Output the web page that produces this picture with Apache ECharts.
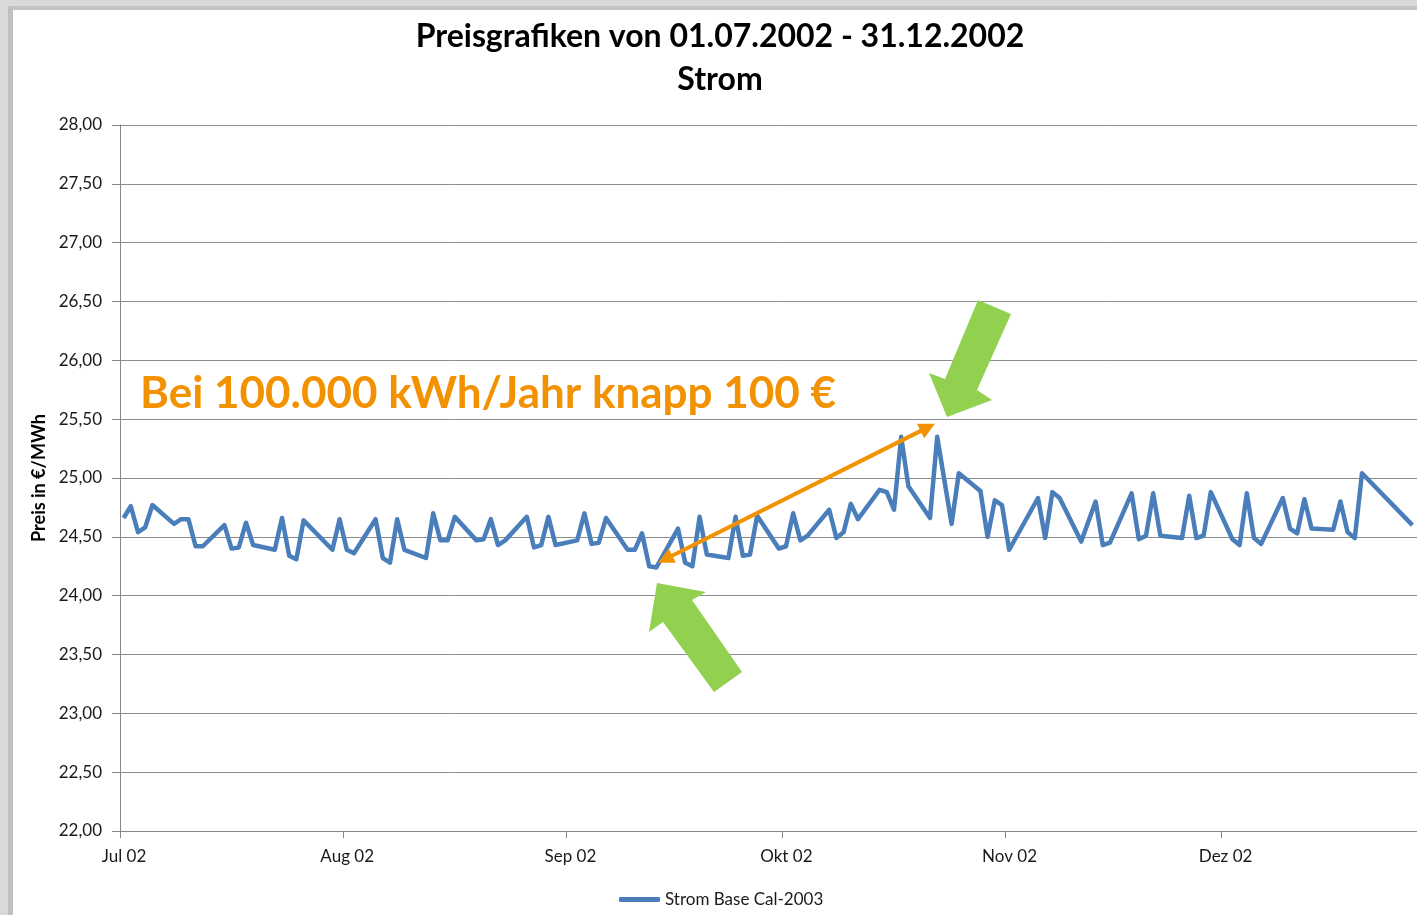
<!DOCTYPE html>
<html><head><meta charset="utf-8">
<script src="https://cdn.jsdelivr.net/npm/echarts@6/dist/echarts.min.js"></script>
<style>
html,body{margin:0;padding:0;overflow:hidden;background:#fff;width:1417px;height:915px}
#c{position:absolute;left:0;top:0;width:1460px;height:915px}
</style></head>
<body><div id="c"></div>
<script>
// ---- data ----
const dates = [
 '2002-07-01','2002-07-02','2002-07-03','2002-07-04','2002-07-05',
 '2002-07-08','2002-07-09','2002-07-10','2002-07-11','2002-07-12',
 '2002-07-15','2002-07-16','2002-07-17','2002-07-18','2002-07-19',
 '2002-07-22','2002-07-23','2002-07-24','2002-07-25','2002-07-26',
 '2002-07-30','2002-07-31','2002-08-01','2002-08-02',
 '2002-08-05','2002-08-06','2002-08-07','2002-08-08','2002-08-09',
 '2002-08-12','2002-08-13','2002-08-14','2002-08-15','2002-08-16',
 '2002-08-19','2002-08-20','2002-08-21','2002-08-22','2002-08-23',
 '2002-08-26','2002-08-27','2002-08-28','2002-08-29','2002-08-30',
 '2002-09-02','2002-09-03','2002-09-04','2002-09-05','2002-09-06',
 '2002-09-09','2002-09-10','2002-09-11','2002-09-12','2002-09-13',
 '2002-09-16','2002-09-17','2002-09-18','2002-09-19','2002-09-20',
 '2002-09-23','2002-09-24','2002-09-25','2002-09-26','2002-09-27',
 '2002-09-30','2002-10-01','2002-10-02','2002-10-03','2002-10-04',
 '2002-10-07','2002-10-08','2002-10-09','2002-10-10','2002-10-11',
 '2002-10-14','2002-10-15','2002-10-16','2002-10-17','2002-10-18',
 '2002-10-21','2002-10-22','2002-10-24','2002-10-25',
 '2002-10-28','2002-10-29','2002-10-30','2002-10-31','2002-11-01',
 '2002-11-05','2002-11-06','2002-11-07','2002-11-08',
 '2002-11-11','2002-11-13','2002-11-14','2002-11-15',
 '2002-11-18','2002-11-19','2002-11-20','2002-11-21','2002-11-22',
 '2002-11-25','2002-11-26','2002-11-27','2002-11-28','2002-11-29',
 '2002-12-02','2002-12-03','2002-12-04','2002-12-05','2002-12-06',
 '2002-12-09','2002-12-10','2002-12-11','2002-12-12','2002-12-13',
 '2002-12-16','2002-12-17','2002-12-18','2002-12-19','2002-12-20',
 '2002-12-27'
];
const prices = [
 24.66,24.76,24.54,24.58,24.77,
 24.61,24.65,24.65,24.42,24.42,
 24.60,24.40,24.41,24.62,24.43,
 24.39,24.66,24.34,24.31,24.64,
 24.39,24.65,24.39,24.36,
 24.65,24.32,24.28,24.65,24.39,
 24.32,24.70,24.47,24.47,24.67,
 24.47,24.48,24.65,24.43,24.47,
 24.67,24.41,24.43,24.67,24.43,
 24.47,24.70,24.44,24.45,24.66,
 24.39,24.39,24.53,24.25,24.24,
 24.57,24.28,24.25,24.67,24.35,
 24.32,24.67,24.34,24.35,24.68,
 24.40,24.42,24.70,24.47,24.51,
 24.73,24.49,24.54,24.78,24.65,
 24.90,24.88,24.73,25.35,24.93,
 24.66,25.35,24.61,25.04,
 24.89,24.50,24.81,24.77,24.39,
 24.83,24.49,24.88,24.83,
 24.46,24.80,24.43,24.45,
 24.87,24.48,24.51,24.87,24.51,
 24.49,24.85,24.49,24.51,24.88,
 24.48,24.43,24.87,24.49,24.44,
 24.83,24.57,24.53,24.82,24.57,
 24.56,24.80,24.54,24.49,25.04,
 24.60
];
const monthTicks = ['2002-07-01','2002-08-01','2002-09-01','2002-10-01','2002-11-01','2002-12-01'];
const monthNames = ['Jan','Feb','Mär','Apr','Mai','Jun','Jul','Aug','Sep','Okt','Nov','Dez'];
const xMinDate = '2002-07-01', xMaxDate = '2002-12-31';
const yMin = 22, yMax = 28, yStep = 0.5;
const seriesName = 'Strom Base Cal-2003';
const titleLines = ['Preisgrafiken von 01.07.2002 - 31.12.2002', 'Strom'];
const yAxisTitle = 'Preis in €/MWh';
const noteText = 'Bei 100.000 kWh/Jahr knapp 100 €';
const arrowFrom = ['2002-09-14 17:00', 24.31];
const arrowTo = ['2002-10-21 04:30', 25.43];

// ---- chart ----
const FONT = 'Lato, "Open Sans", sans-serif';
const T = s => +echarts.time.parse(s);
const chart = echarts.init(document.getElementById('c'), null, {renderer: 'canvas'});
const tickVals = monthTicks.map(T);
const GREEN = '#92D050';

chart.setOption({
  animation: false,
  backgroundColor: '#ffffff',
  grid: {left: 120, top: 125, width: 1317.6, height: 706, containLabel: false},
  xAxis: {
    type: 'value',
    min: T(xMinDate), max: T(xMaxDate),
    axisLine: {show: true, onZero: false, lineStyle: {color: '#868686', width: 1}},
    axisTick: {show: true, length: 7, lineStyle: {color: '#868686'}, customValues: tickVals},
    axisLabel: {
      customValues: tickVals,
      fontFamily: FONT, fontSize: 17, color: '#1a1a1a', margin: 17,
      padding: [0, 0, 0, 8],
      formatter: function (v) {
        const d = new Date(v);
        return monthNames[d.getMonth()] + ' ' + String(d.getFullYear()).slice(2);
      }
    },
    splitLine: {show: false}
  },
  yAxis: {
    type: 'value', min: yMin, max: yMax, interval: yStep,
    name: yAxisTitle, nameLocation: 'middle', nameGap: 71, nameRotate: 90,
    nameTextStyle: {fontFamily: FONT, fontSize: 18, fontWeight: 'bold', color: '#000'},
    axisLine: {show: true, lineStyle: {color: '#868686', width: 1}},
    axisTick: {show: true, length: 8, lineStyle: {color: '#868686'}},
    axisLabel: {
      fontFamily: FONT, fontSize: 17, color: '#1a1a1a', margin: 18,
      formatter: v => v.toFixed(2).replace('.', ',')
    },
    splitLine: {show: true, lineStyle: {color: '#8c8c8c', width: 1}}
  },
  legend: {
    left: 614, top: 886, icon: 'roundRect', itemWidth: 41, itemHeight: 5, itemGap: 10,
    textStyle: {fontFamily: FONT, fontSize: 17, color: '#1a1a1a'},
    data: [seriesName]
  },
  series: [{
    name: seriesName, type: 'line',
    data: dates.map((d, i) => [T(d + ' 12:00'), prices[i]]),
    showSymbol: false, symbol: 'none',
    lineStyle: {color: '#4a7ebb', width: 4.5, join: 'round'},
    itemStyle: {color: '#4a7ebb'},
    markLine: {
      silent: true, animation: false,
      symbol: ['triangle', 'triangle'], symbolSize: [16, 16],
      label: {show: false},
      lineStyle: {color: '#F39200', width: 4, type: 'solid'},
      data: [[{coord: [T(arrowFrom[0]), arrowFrom[1]]}, {coord: [T(arrowTo[0]), arrowTo[1]]}]]
    },
    z: 3
  }],
  graphic: [
    {type: 'rect', shape: {x: 0, y: 0, width: 1460, height: 10}, style: {fill: '#d9d9d9'}, z: 100},
    {type: 'rect', shape: {x: 0, y: 6, width: 1460, height: 4}, style: {fill: '#c4c4c4'}, z: 100},
    {type: 'rect', shape: {x: 0, y: 0, width: 13, height: 915}, style: {fill: '#d9d9d9'}, z: 100},
    {type: 'rect', shape: {x: 8, y: 6, width: 5, height: 915}, style: {fill: '#c0c0c0'}, z: 100},
    {type: 'text', x: 720, y: 37, style: {text: titleLines[0], font: 'bold 32px ' + FONT, fill: '#000', align: 'center', verticalAlign: 'middle'}, z: 50},
    {type: 'text', x: 720, y: 80, style: {text: titleLines[1], font: 'bold 32px ' + FONT, fill: '#000', align: 'center', verticalAlign: 'middle'}, z: 50},
    {type: 'text', x: 140, y: 394, style: {text: noteText, font: 'bold 44px ' + FONT, fill: '#F39200', align: 'left', verticalAlign: 'middle'}, z: 50},
    {type: 'polygon', shape: {points: [[978,300],[1011,314],[977,390],[992,400],[947,417],[929,373],[945,379]]}, style: {fill: GREEN}, z: 60},
    {type: 'polygon', shape: {points: [[657,583],[706,592],[692,600],[742,672],[714,692],[663,622],[649,632]]}, style: {fill: GREEN}, z: 60}
  ]
});
</script></body></html>
